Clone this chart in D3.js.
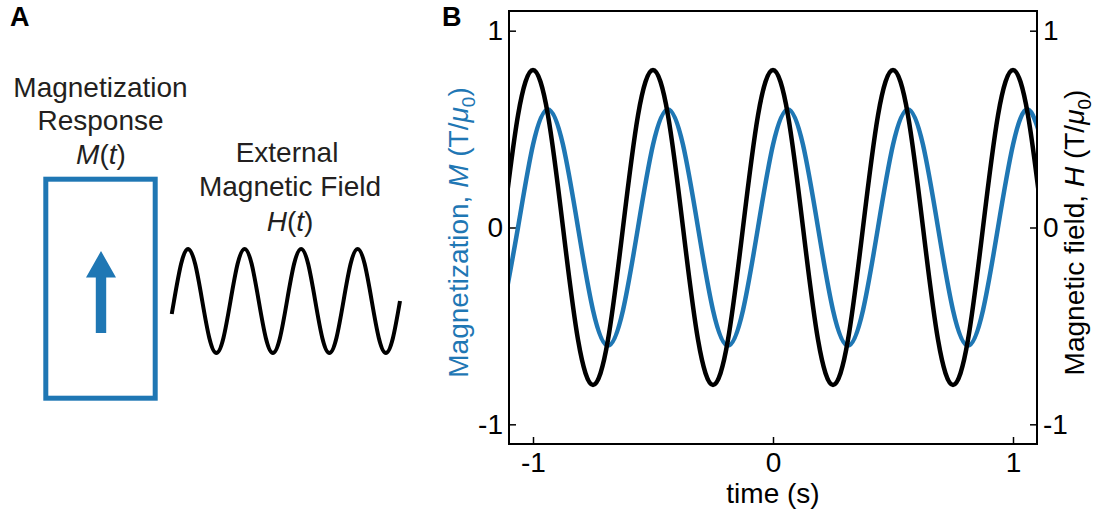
<!DOCTYPE html>
<html lang="en">
<head>
    <meta charset="UTF-8">
    <title>Magnetization response</title>
    <script src="https://d3js.org/d3.v7.min.js"></script>
    <style>
        body { margin: 0; background: #fff; }
        svg text {
            font-family: 'Liberation Sans', Arial, sans-serif;
            font-size: 28px;
            fill: #231f20;
        }
        text.panel { font-weight: bold; font-size: 27px; fill: #000; }
        .tick text { fill: #000; }
        .tick line { stroke: #000; stroke-width: 1.5; }
    </style>
</head>
<body>
<svg width="1104" height="514"></svg>
<script>
    // time samples (s), with field H and magnetization M (T/mu0)
    const time = [-1.125, -1.0625, -1, -0.9375, -0.875, -0.8125, -0.75, -0.6875, -0.625, -0.5625,
        -0.5, -0.4375, -0.375, -0.3125, -0.25, -0.1875, -0.125, -0.0625, 0, 0.0625,
        0.125, 0.1875, 0.25, 0.3125, 0.375, 0.4375, 0.5, 0.5625, 0.625, 0.6875,
        0.75, 0.8125, 0.875, 0.9375, 1, 1.0625, 1.125];
    const fieldH = [0, .57, .8, .57, 0, -.57, -.8, -.57, 0, .57, .8, .57, 0, -.57, -.8, -.57,
        0, .57, .8, .57, 0, -.57, -.8, -.57, 0, .57, .8, .57, 0, -.57, -.8, -.57,
        0, .57, .8, .57, 0];
    const magM = [-.42, 0, .42, .6, .42, 0, -.42, -.6, -.42, 0, .42, .6, .42, 0, -.42, -.6,
        -.42, 0, .42, .6, .42, 0, -.42, -.6, -.42, 0, .42, .6, .42, 0, -.42, -.6,
        -.42, 0, .42, .6, .42];
    const ticksX = [-1, 0, 1];
    const ticksY = [-1, 0, 1];

    // sketch wave in panel A: position in cycles and relative height
    const waveCycle = [-0.04, 0, 0.125, 0.25, 0.375, 0.5, 0.625, 0.75, 0.875, 1, 1.125, 1.25, 1.375,
        1.5, 1.625, 1.75, 1.875, 2, 2.125, 2.25, 2.375, 2.5, 2.625, 2.75, 2.875, 3,
        3.125, 3.25, 3.375, 3.5, 3.625, 3.75, 3.875, 4];
    const waveVal = [-0.25, 0, .71, 1, .71, 0, -.71, -1, -.71, 0, .71, 1, .71, 0, -.71, -1, -.71,
        0, .71, 1, .71, 0, -.71, -1, -.71, 0, .71, 1, .71, 0, -.71, -1, -.71, 0];

    const blue = '#1f77b4';
    const svg = d3.select('svg');

    // ---------- panel A ----------
    svg.append('text').attr('class', 'panel').attr('x', 10).attr('y', 26).text('A');

    const lblM = svg.append('g').attr('text-anchor', 'middle');
    lblM.append('text').attr('x', 100.5).attr('y', 97).text('Magnetization');
    lblM.append('text').attr('x', 100.5).attr('y', 130).text('Response');
    const mt = lblM.append('text').attr('x', 101).attr('y', 164);
    mt.append('tspan').style('font-style', 'italic').text('M');
    mt.append('tspan').text('(');
    mt.append('tspan').style('font-style', 'italic').text('t');
    mt.append('tspan').text(')');

    const lblH = svg.append('g').attr('text-anchor', 'middle');
    lblH.append('text').attr('x', 287).attr('y', 162).text('External');
    lblH.append('text').attr('x', 290).attr('y', 196).text('Magnetic Field');
    const ht = lblH.append('text').attr('x', 290).attr('y', 231);
    ht.append('tspan').style('font-style', 'italic').text('H');
    ht.append('tspan').text('(');
    ht.append('tspan').style('font-style', 'italic').text('t');
    ht.append('tspan').text(')');

    svg.append('rect')
        .attr('x', 45.8).attr('y', 179.2).attr('width', 109.4).attr('height', 219)
        .attr('fill', 'none').attr('stroke', blue).attr('stroke-width', 5);

    const arrow = d3.path();
    arrow.moveTo(101, 251);
    arrow.lineTo(116, 277.5);
    arrow.lineTo(106.2, 277.5);
    arrow.lineTo(106.2, 333);
    arrow.lineTo(95.8, 333);
    arrow.lineTo(95.8, 277.5);
    arrow.lineTo(86, 277.5);
    arrow.closePath();
    svg.append('path').attr('d', arrow.toString()).attr('fill', blue);

    const wx = d3.scaleLinear().domain([0, 4]).range([174, 400]);
    const wy = d3.scaleLinear().domain([-1, 1]).range([353, 249]);
    svg.append('path')
        .datum(d3.zip(waveCycle, waveVal))
        .attr('fill', 'none').attr('stroke', '#000').attr('stroke-width', 4)
        .attr('d', d3.line().x(d => wx(d[0])).y(d => wy(d[1])).curve(d3.curveNatural));

    // ---------- panel B ----------
    svg.append('text').attr('class', 'panel').attr('x', 442).attr('y', 26).text('B');

    const pLeft = 509, pRight = 1037, pTop = 11, pBottom = 444;
    const x = d3.scaleLinear().domain([-1.1, 1.1]).range([pLeft, pRight]);
    const y = d3.scaleLinear().domain([-1.1, 1.1]).range([pBottom, pTop]);

    svg.append('clipPath').attr('id', 'plotclip')
        .append('rect').attr('x', pLeft).attr('y', pTop)
        .attr('width', pRight - pLeft).attr('height', pBottom - pTop);

    const fmt = d => String(d);
    const axL = svg.append('g').attr('transform', `translate(${pLeft},0)`)
        .call(d3.axisLeft(y).tickValues(ticksY).tickFormat(fmt).tickSizeInner(-7).tickSizeOuter(0).tickPadding(6));
    const axR = svg.append('g').attr('transform', `translate(${pRight},0)`)
        .call(d3.axisRight(y).tickValues(ticksY).tickFormat(fmt).tickSizeInner(-7).tickSizeOuter(0).tickPadding(6));
    const axB = svg.append('g').attr('transform', `translate(0,${pBottom})`)
        .call(d3.axisBottom(x).tickValues(ticksX).tickFormat(fmt).tickSizeInner(-7).tickSizeOuter(0).tickPadding(8));
    [axL, axR, axB].forEach(g => {
        g.select('.domain').remove();
        g.attr('font-size', null).attr('font-family', null);
    });

    const plot = svg.append('g').attr('clip-path', 'url(#plotclip)');
    const line = (vals) => d3.line()
        .x((d, i) => x(time[i]))
        .y(d => y(d))
        .curve(d3.curveNatural)(vals);
    plot.append('path').attr('d', line(magM))
        .attr('fill', 'none').attr('stroke', blue).attr('stroke-width', 4.5);
    plot.append('path').attr('d', line(fieldH))
        .attr('fill', 'none').attr('stroke', '#000').attr('stroke-width', 4.5);

    svg.append('rect')
        .attr('x', pLeft).attr('y', pTop).attr('width', pRight - pLeft).attr('height', pBottom - pTop)
        .attr('fill', 'none').attr('stroke', '#000').attr('stroke-width', 2);

    svg.append('text').attr('x', (pLeft + pRight) / 2).attr('y', 503)
        .attr('text-anchor', 'middle').style('fill', '#000').text('time (s)');

    function axisLabel(xPos, colour, name, sym) {
        const t = svg.append('text')
            .attr('transform', `translate(${xPos},${(pTop + pBottom) / 2 + 5}) rotate(-90)`)
            .attr('text-anchor', 'middle').style('fill', colour);
        t.append('tspan').text(name + ', ');
        t.append('tspan').style('font-style', 'italic').text(sym);
        t.append('tspan').text(' (T/');
        t.append('tspan').style('font-style', 'italic').text('\u03bc');
        t.append('tspan').attr('dy', 7).style('font-size', '19px').text('0');
        t.append('tspan').attr('dy', -7).text(')');
    }
    axisLabel(468, blue, 'Magnetization', 'M');
    axisLabel(1084, '#000', 'Magnetic field', 'H');
</script>
</body>
</html>
